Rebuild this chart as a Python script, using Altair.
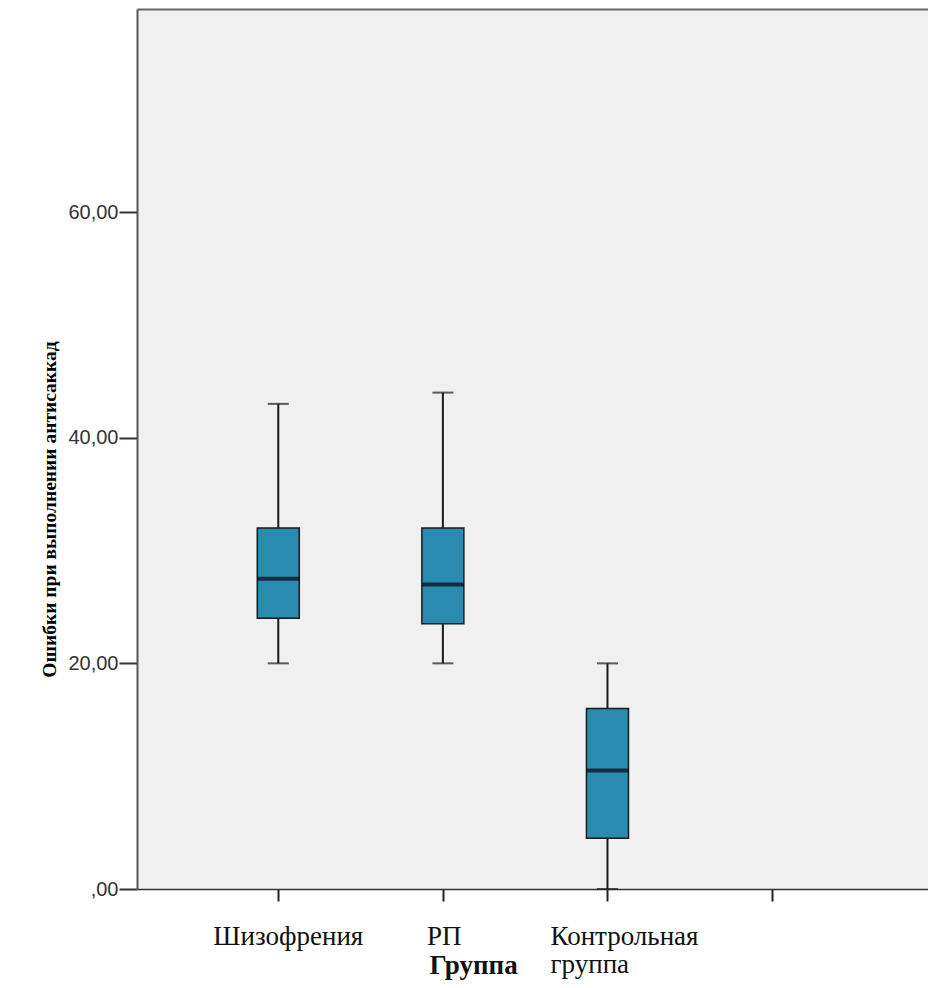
import altair as alt
import pandas as pd

# ---- data ----
groups = ["Шизофрения", "РП", "Контрольная\nгруппа"]
positions = [1, 2, 3]
whisker_low = [20, 20, 0]
q1 = [24, 23.5, 4.5]
median = [27.5, 27, 10.5]
q3 = [32, 32, 16]
whisker_high = [43, 44, 20]
x_tick_values = [1, 2, 3, 4]
y_tick_values = [0, 20, 40, 60]

df = pd.DataFrame({
    "group": groups, "pos": positions, "low": whisker_low, "q1": q1,
    "median": median, "q3": q3, "high": whisker_high,
})

# ---- styling ----
W, H = 791, 880
label_dx = {"Шизофрения": -65, "РП": -16, "Контрольная\nгруппа": -57}
BOX_FILL = "#2A8BB1"
DARK = "#1a1a1a"

x_axis = alt.Axis(
    values=x_tick_values, labels=False, ticks=True, tickSize=12, tickWidth=2,
    tickColor="#222", domainColor="#333", domainWidth=1.5, grid=False,
    title="Группа", titleFont="Liberation Serif", titleFontSize=27,
    titleFontWeight="bold", titleColor="#111", titleX=336, titleY=84,
    titleAlign="center", titleBaseline="alphabetic",
)
y_axis = alt.Axis(
    values=y_tick_values,
    labelExpr="datum.value == 0 ? ',00' : replace(format(datum.value, '.2f'), '.', ',')",
    labelFont="Liberation Sans", labelFontSize=20, labelColor="#333",
    labelPadding=1, tickSize=18, tickWidth=2, tickColor="#333",
    domainColor="#555", domainWidth=2, grid=False,
    title="Ошибки при выполнении антисаккад", titleFont="Liberation Serif",
    titleFontSize=19.5, titleFontWeight="bold", titleColor="#000",
    titleAngle=270, titleX=-88, titleY=500, titleAlign="center",
    titleBaseline="middle",
)

xs = alt.Scale(domain=[0.172, 4.917], nice=False, zero=False)
ys = alt.Scale(domain=[0, 78], nice=False, zero=False)
X = alt.X("pos:Q", scale=xs, axis=x_axis)

base = alt.Chart(df)

whiskers = base.mark_rule(color=DARK, strokeWidth=2).encode(
    x=X, y=alt.Y("low:Q", scale=ys, axis=y_axis), y2="high:Q")
cap_low = base.mark_tick(orient="horizontal", size=21, thickness=2, color=DARK).encode(
    x=X, y=alt.Y("low:Q", scale=ys, axis=y_axis))
cap_high = base.mark_tick(orient="horizontal", size=21, thickness=2, color=DARK).encode(
    x=X, y=alt.Y("high:Q", scale=ys, axis=y_axis))
boxes = base.mark_bar(size=42, color=BOX_FILL, stroke=DARK, strokeWidth=1.5).encode(
    x=X, y=alt.Y("q1:Q", scale=ys, axis=y_axis), y2="q3:Q")
medians = base.mark_tick(orient="horizontal", size=42, thickness=4, color="#050514").encode(
    x=X, y=alt.Y("median:Q", scale=ys, axis=y_axis))

label_layers = []
for g in groups:
    label_layers.append(
        alt.Chart(df[df["group"] == g]).mark_text(
            align="left", baseline="alphabetic", dx=label_dx[g],
            font="Liberation Serif", fontSize=27, lineBreak="\n",
            lineHeight=28, color="#111",
        ).encode(x=X, y=alt.value(H + 56), text="group:N")
    )

main = alt.layer(whiskers, cap_low, cap_high, boxes, medians, *label_layers)

top_border = base.mark_rule(opacity=0).encode(
    x=alt.X("pos:Q", scale=xs, axis=alt.Axis(
        orient="top", labels=False, ticks=False, title=None, grid=False,
        domainColor="#666", domainWidth=2)),
)

chart = alt.layer(main, top_border).resolve_axis(x="independent").properties(
    width=W, height=H,
    autosize=alt.AutoSizeParams(type="none"),
    padding={"left": 129, "top": 1, "right": 0, "bottom": 91},
).configure_view(fill="#F0F0F0", stroke=None)

chart.save("out.html", embed_options={"renderer": "svg", "actions": False})
